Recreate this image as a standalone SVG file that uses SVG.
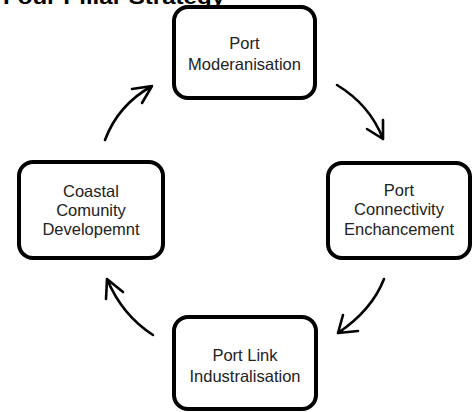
<svg xmlns="http://www.w3.org/2000/svg" width="475" height="412" viewBox="0 0 475 412">
<style>
.box{fill:#fff;stroke:#000;stroke-width:4}
.lbl{font-family:"Liberation Sans",Arial,sans-serif;font-size:16.5px;fill:#222;text-anchor:middle}
.title{font-family:"Liberation Sans",Arial,sans-serif;font-size:20px;font-weight:bold;fill:#000}
.arr{fill:none;stroke:#000;stroke-width:2.6;stroke-linecap:round;stroke-linejoin:round}
</style>
<rect width="475" height="412" fill="#fff"/>
<text class="title" x="3" y="4" textLength="222" lengthAdjust="spacingAndGlyphs">Four Pillar Strategy</text>
<g id="connectors">
<path class="arr" d="M105,140 Q118,105 152,86 M132,89 L152,86 L142,103"/>
<path class="arr" d="M337,85 Q370,105 383,139 M367,129 L383,139 L383,120"/>
<path class="arr" d="M384,279 Q372,310 338,333 M343,315 L338,333 L358,331"/>
<path class="arr" d="M153,335 Q122,315 107,279 M106,299 L107,279 L123,292"/>
</g>
<g id="port-moderanisation">
<rect class="box" x="174" y="7" width="141" height="91" rx="14"/>
<text class="lbl" x="244.5" y="49">Port</text>
<text class="lbl" x="244.5" y="70">Moderanisation</text>
</g>
<g id="coastal-community">
<rect class="box" x="19" y="162" width="144" height="96" rx="14"/>
<text class="lbl" x="91" y="197">Coastal</text>
<text class="lbl" x="91" y="216">Comunity</text>
<text class="lbl" x="91" y="235">Developemnt</text>
</g>
<g id="port-connectivity">
<rect class="box" x="328" y="163" width="142" height="95" rx="14"/>
<text class="lbl" x="399" y="196">Port</text>
<text class="lbl" x="399" y="215">Connectivity</text>
<text class="lbl" x="399" y="235">Enchancement</text>
</g>
<g id="port-link">
<rect class="box" x="174" y="317" width="142" height="92" rx="14"/>
<text class="lbl" x="245" y="361">Port Link</text>
<text class="lbl" x="245" y="382">Industralisation</text>
</g>
</svg>
